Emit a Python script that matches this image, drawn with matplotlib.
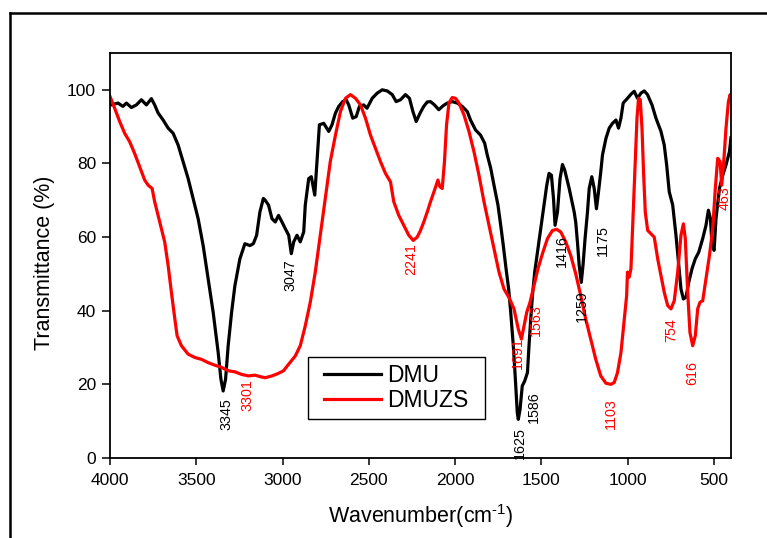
import matplotlib
matplotlib.use("Agg")
import matplotlib.pyplot as plt
from matplotlib.lines import Line2D
from matplotlib.patches import Rectangle
from matplotlib.transforms import IdentityTransform

plt.rcParams['font.family'] = ['Liberation Sans', 'DejaVu Sans']
plt.rcParams['mathtext.fontset'] = 'custom'
plt.rcParams['mathtext.rm'] = 'Liberation Sans'
plt.rcParams['mathtext.it'] = 'Liberation Sans'

# ---------------- data ----------------
dmu_wn = [4000, 3992, 3954, 3925, 3905, 3876, 3847, 3818, 3789, 3760, 3741, 3721, 3692, 3663, 3634,
          3605, 3576, 3547, 3518, 3489, 3460, 3431, 3402, 3373, 3357, 3344, 3330, 3315, 3295, 3276,
          3247, 3218, 3189, 3169, 3150, 3131, 3111, 3100, 3081, 3061, 3042, 3023, 3003, 2984, 2964,
          2949, 2935, 2916, 2897, 2877, 2868, 2848, 2833, 2813, 2800, 2786, 2761, 2732, 2713, 2693,
          2674, 2651, 2631, 2616, 2593, 2573, 2554, 2529, 2510, 2480, 2451, 2422, 2393, 2364, 2341,
          2316, 2287, 2264, 2244, 2225, 2200, 2181, 2161, 2142, 2119, 2094, 2068, 2045, 2016, 1987,
          1958, 1929, 1910, 1881, 1852, 1828, 1813, 1793, 1774, 1751, 1735, 1720, 1704, 1689, 1677,
          1662, 1650, 1639, 1633, 1623, 1610, 1596, 1580, 1571, 1561, 1551, 1538, 1522, 1503, 1484,
          1468, 1455, 1441, 1429, 1420, 1406, 1391, 1377, 1364, 1338, 1309, 1300, 1290, 1280, 1268,
          1258, 1246, 1232, 1222, 1207, 1193, 1180, 1168, 1155, 1145, 1125, 1106, 1087, 1067, 1052,
          1038, 1025, 1000, 980, 961, 942, 922, 903, 884, 858, 835, 806, 787, 773, 758, 738, 719,
          703, 690, 676, 661, 645, 626, 607, 587, 564, 545, 531, 519, 510, 498, 487, 467, 448, 429,
          409, 400]
dmu_t = [96.0, 95.9, 96.4, 95.5, 96.4, 95.2, 95.9, 97.3, 95.9, 97.6, 95.9, 93.7, 91.8, 89.6, 88.2,
         85.0, 80.5, 75.9, 70.5, 65.0, 57.7, 48.7, 39.6, 28.7, 21.4, 18.2, 21.4, 30.5, 39.6, 46.8,
         54.1, 58.2, 57.7, 58.2, 60.5, 66.8, 70.5, 70.0, 68.7, 65.0, 64.1, 65.9, 64.1, 62.3, 60.5,
         55.5, 58.7, 60.5, 58.7, 61.4, 68.7, 75.9, 76.4, 71.4, 80.5, 90.5, 90.9, 88.7, 90.5, 93.7,
         95.5, 96.8, 97.3, 95.9, 92.3, 92.7, 95.5, 95.9, 95.0, 97.7, 99.1, 100.0, 99.7, 98.7, 96.8,
         97.3, 98.7, 97.7, 94.1, 91.4, 93.9, 95.5, 96.7, 96.8, 95.9, 94.6, 95.7, 96.4, 96.8, 96.4,
         95.5, 94.1, 91.8, 89.1, 87.7, 85.5, 82.3, 78.7, 74.1, 68.7, 63.2, 57.7, 51.4, 45.9, 39.6,
         30.5, 21.4, 12.3, 10.5, 13.2, 19.6, 20.9, 23.2, 30.5, 37.7, 44.1, 50.5, 55.9, 62.3, 68.7,
         74.1, 77.3, 76.8, 70.5, 63.2, 66.8, 75.9, 79.7, 78.2, 73.2, 66.8, 64.0, 58.5, 52.3, 47.7,
         52.3, 59.6, 66.8, 73.2, 76.4, 73.2, 67.7, 72.3, 77.7, 82.3, 86.8, 89.6, 90.9, 91.8, 89.6,
         92.3, 96.4, 97.7, 98.8, 99.6, 97.7, 99.1, 99.7, 98.7, 95.9, 92.3, 88.7, 85.0, 79.6, 72.3,
         68.7, 60.5, 52.3, 45.9, 43.2, 43.7, 47.7, 51.4, 54.1, 55.9, 59.6, 63.2, 67.3, 65.0, 57.7,
         56.4, 65.0, 73.2, 76.8, 79.6, 83.2, 87.0]

dmuzs_wn = [4000, 3973, 3944, 3915, 3886, 3857, 3828, 3799, 3779, 3756, 3741, 3712, 3683, 3663, 3644,
            3624, 3611, 3586, 3547, 3508, 3470, 3431, 3392, 3353, 3315, 3276, 3237, 3198, 3160, 3121,
            3100, 3061, 3023, 2994, 2964, 2926, 2897, 2868, 2839, 2810, 2781, 2752, 2723, 2693, 2664,
            2635, 2606, 2577, 2548, 2519, 2490, 2461, 2432, 2403, 2374, 2355, 2326, 2297, 2268, 2242,
            2219, 2200, 2181, 2161, 2142, 2119, 2099, 2088, 2074, 2061, 2049, 2035, 2016, 1997, 1977,
            1948, 1919, 1890, 1861, 1832, 1803, 1774, 1745, 1716, 1687, 1658, 1633, 1615, 1600, 1584,
            1565, 1542, 1519, 1493, 1464, 1435, 1410, 1387, 1358, 1329, 1300, 1271, 1242, 1213, 1184,
            1155, 1125, 1096, 1077, 1058, 1038, 1019, 1005, 1000, 990, 980, 967, 955, 945, 936, 926,
            916, 907, 897, 883, 864, 845, 825, 806, 787, 767, 748, 729, 709, 690, 676, 665, 651, 638,
            622, 607, 593, 580, 564, 545, 525, 506, 491, 477, 463, 454, 442, 429, 415, 405, 400]
dmuzs_t = [98.2, 95.0, 91.4, 88.2, 85.9, 82.7, 79.1, 75.5, 74.1, 73.2, 69.6, 64.1, 58.7, 52.3, 45.0,
           37.7, 33.2, 30.5, 28.2, 27.3, 26.8, 25.9, 25.2, 24.6, 23.7, 23.4, 22.7, 22.3, 22.5, 22.0,
           21.8, 22.3, 23.0, 23.7, 25.5, 27.7, 30.5, 35.9, 42.3, 50.5, 60.5, 70.5, 80.5, 87.7, 94.1,
           97.7, 98.7, 97.7, 95.9, 92.3, 87.7, 84.1, 80.5, 77.3, 75.0, 69.6, 65.9, 63.2, 60.5, 59.1,
           60.0, 61.8, 64.1, 66.8, 69.6, 72.7, 75.5, 73.7, 73.2, 80.5, 90.5, 96.4, 97.9, 97.7, 96.4,
           93.2, 88.7, 83.2, 76.8, 69.6, 63.2, 56.8, 50.5, 45.9, 43.6, 40.5, 35.0, 32.3, 35.9, 39.6,
           42.3, 46.8, 51.4, 55.5, 59.6, 61.8, 62.1, 61.4, 58.7, 55.0, 50.0, 44.1, 37.7, 32.3, 26.8,
           22.3, 20.3, 20.0, 20.5, 23.2, 28.6, 37.7, 44.1, 50.5, 49.1, 51.4, 66.8, 80.5, 92.3, 97.7, 97.3,
           89.6, 77.7, 66.8, 61.8, 60.9, 60.0, 54.1, 49.6, 45.0, 41.4, 40.5, 42.7, 50.5, 60.5, 63.6, 59.6,
           45.0, 34.1, 30.5, 33.2, 40.5, 42.3, 42.7, 48.6, 55.0, 62.3, 73.2, 81.4, 80.5, 74.1, 80.5,
           89.6, 96.8, 98.7, 97.7]

# peak labels: (text, wavenumber, transmittance, colour)
peak_labels = ["3345", "3047", "1625", "1586", "1416", "1259", "1175",
               "3301", "2241", "1691", "1563", "1103", "754", "616", "463"]
peak_wn = [3322, 2951, 1623, 1542, 1383, 1265, 1145,
           3205, 2254, 1635, 1532, 1096, 748, 622, 436]
peak_t = [12.0, 49.6, 4.1, 13.9, 56.2, 41.2, 59.1,
          17.0, 54.1, 28.4, 37.6, 12.1, 34.6, 23.2, 70.5]
peak_series = ["DMU"] * 7 + ["DMUZS"] * 8

series_names = ["DMU", "DMUZS"]
series_colors = {"DMU": "black", "DMUZS": "#ff0000"}

x_ticks = [4000, 3500, 3000, 2500, 2000, 1500, 1000, 500]
y_ticks = [0, 20, 40, 60, 80, 100]

# ---------------- figure ----------------
W, H = 767, 538
fig = plt.figure(figsize=(W / 100, H / 100), dpi=100)
ax = fig.add_axes([110 / W, 1 - 458 / H, (731 - 110) / W, (458 - 53) / H])

ax.plot(dmu_wn, dmu_t, color=series_colors["DMU"], lw=2.3, label=series_names[0], solid_joinstyle='round')
ax.plot(dmuzs_wn, dmuzs_t, color=series_colors["DMUZS"], lw=2.3, label=series_names[1], solid_joinstyle='round')

for txt, wn, t, s in zip(peak_labels, peak_wn, peak_t, peak_series):
    ax.text(wn, t, txt, rotation=90, ha='center', va='center', fontsize=10.3,
            color=series_colors[s])

ax.set_xlim(4000, 400)
ax.set_ylim(0, 110)
ax.set_xticks(x_ticks)
ax.set_yticks(y_ticks)
ax.tick_params(axis='both', direction='out', labelsize=12.5, width=1.1, colors='black')
ax.tick_params(axis='x', length=5, pad=6)
ax.tick_params(axis='y', length=6, pad=4)
for sp in ax.spines.values():
    sp.set_linewidth(1.3)

ax.set_xlabel(r'Wavenumber(cm$^{\text{-}1}$)', fontsize=15.5, labelpad=10)
ax.set_ylabel('Transmittance (%)', fontsize=15.5)
ax.yaxis.set_label_coords(-0.088, 0.481)

leg = ax.legend(loc='center', bbox_to_anchor=((396.5 - 110) / 621, (458 - 388) / 405),
                borderaxespad=0, fontsize=16.5, frameon=False,
                handlelength=2.45, handletextpad=0.3, borderpad=0.3, labelspacing=0.12)
for lh in leg.get_lines():
    lh.set_linewidth(2.3)

fig.canvas.draw()
bb = leg.get_window_extent()
pad_x = 9
fig.add_artist(Rectangle((bb.x0 - pad_x, bb.y0), bb.width + 2 * pad_x, bb.height,
                         transform=IdentityTransform(), fill=False, ec='black', lw=1.0))

# outer frame (left and top only visible)
fx = 9.5 / W
fy = 1 - 13 / H
fig.add_artist(Line2D([fx, fx], [0, fy], transform=fig.transFigure, color='black', lw=1.8))
fig.add_artist(Line2D([fx, 1], [fy, fy], transform=fig.transFigure, color='black', lw=1.8))

fig.savefig("out.png", dpi=100)
